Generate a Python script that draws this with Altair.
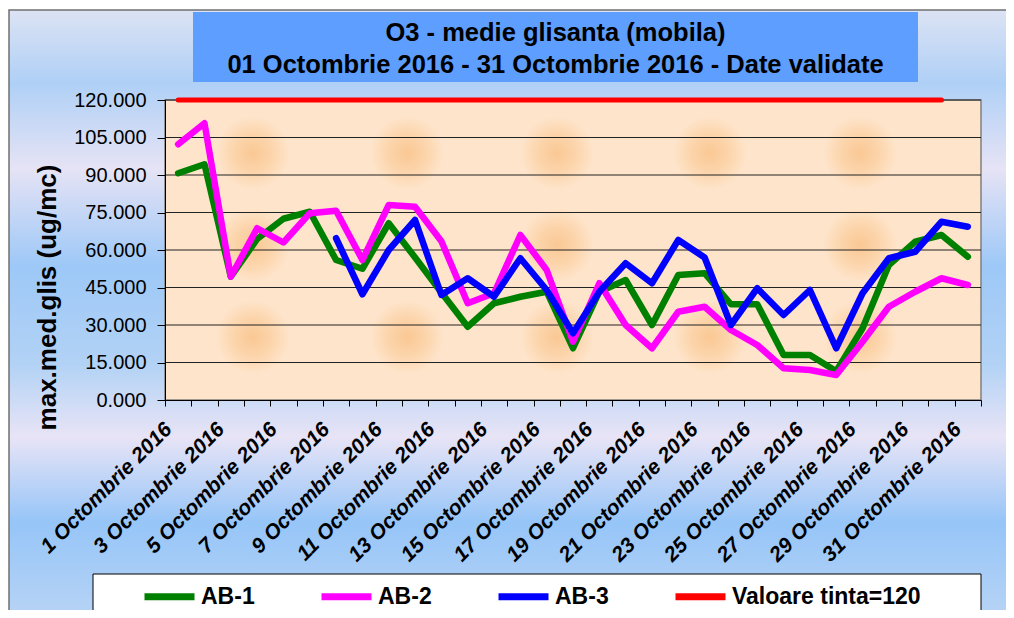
import altair as alt
import pandas as pd

# ---------------- data ----------------
days = list(range(1, 32))
ab1 = [90.7, 94.3, 49.3, 64.4, 72.5, 75.3, 56.0, 52.5, 70.7, 57.0,
       43.0, 29.3, 38.7, 41.3, 43.3, 20.7, 43.3, 48.0, 30.0, 50.0,
       50.7, 38.3, 38.3, 18.0, 18.0, 11.5, 28.7, 54.0, 63.3, 66.0, 57.3]
ab2 = [102.3, 110.7, 49.3, 68.7, 63.0, 74.7, 75.7, 56.0, 78.0, 77.3,
       63.5, 38.7, 42.7, 66.0, 52.0, 23.3, 46.7, 30.0, 20.7, 35.3,
       37.3, 28.0, 22.0, 12.7, 12.0, 10.0, 23.3, 37.3, 43.3, 48.7, 46.0]
ab3 = [None, None, None, None, None, None,
       64.7, 42.3, 60.0, 72.0, 42.0, 48.7, 41.3, 56.7, 44.0, 26.7,
       43.3, 54.7, 46.7, 64.0, 57.0, 30.0, 44.7, 34.0, 44.0, 20.7,
       42.7, 56.7, 59.3, 71.3, 69.3]
target = [120] * 30 + [None]

series_names = ["AB-1", "AB-2", "AB-3", "Valoare tinta=120"]
series_colors = ["#008000", "#FF00FF", "#0000FF", "#FF0000"]
y_ticks = [0, 15, 30, 45, 60, 75, 90, 105, 120]
title_lines = ["O3 - medie glisanta (mobila)",
               "01 Octombrie 2016 - 31 Octombrie  2016 -  Date validate"]
y_title = "max.med.glis (ug/mc)"
month_label = "Octombrie 2016"

# decorative texture of the plot area (peach blotches), in pixels of the plot area
blob_x = [88, 242, 392, 545, 695, 88, 392, 695, 88, 242, 392, 545, 695]
blob_y = [53, 53, 53, 53, 53, 145, 145, 145, 237, 237, 237, 237, 237]

FONT = "Liberation Sans"
W, H = 816, 300
PEACH = "#FEE4CA"

rows = []
for name, vals in zip(series_names, [ab1, ab2, ab3, target]):
    for d, v in zip(days, vals):
        if v is not None:
            rows.append({"day": d, "value": v, "series": name})
df = pd.DataFrame(rows)
grid_df = pd.DataFrame({"value": [t for t in y_ticks if t > 0]})
one = pd.DataFrame({"k": [0]})
blobs = pd.DataFrame({"bx": blob_x, "by": blob_y})

x_enc = alt.X(
    "day:O",
    bandPosition=0.5,
    scale=alt.Scale(type="band", paddingInner=0, paddingOuter=0, domain=days),
    axis=alt.Axis(
        title=None,
        labelExpr=f"datum.value % 2 == 1 ? datum.value + ' {month_label}' : ''",
        labelAngle=-45, labelAlign="right", labelBaseline="middle",
        labelFont=FONT, labelFontSize=21, labelFontWeight="bold",
        labelFontStyle="italic", labelColor="black", labelPadding=20,
        labelOffset=-10,
        labelLimit=400, tickBand="extent", tickSize=6, tickColor="black",
        domainColor="black", labelOverlap=False, labelBound=False,
        grid=False, zindex=1,
    ),
)
y_scale = alt.Scale(domain=[0, 120], nice=False, zero=True)
y_axis = alt.Axis(
    title=y_title, values=y_ticks, format=".3f",
    labelFont=FONT, labelFontSize=20, labelColor="black", labelPadding=11,
    tickSize=8, tickColor="black", domainColor="black", grid=False,
    titleFont=FONT, titleFontSize=26, titleFontWeight="bold",
    titleColor="black", titleAngle=270, titleAlign="center",
    titleBaseline="middle", titleX=-118, titleY=197, zindex=1,
)
y_enc = alt.Y("value:Q", scale=y_scale, axis=y_axis)

bg_grad = alt.LinearGradient(
    gradient="linear", x1=0, y1=0, x2=0, y2=1,
    stops=[
        alt.GradientStop(offset=0.0, color="#DCE3F4"),
        alt.GradientStop(offset=0.12, color="#AFD0F6"),
        alt.GradientStop(offset=0.26, color="#E6E3F5"),
        alt.GradientStop(offset=0.42, color="#9DC8F7"),
        alt.GradientStop(offset=0.58, color="#B2D2F5"),
        alt.GradientStop(offset=0.70, color="#E8E4F6"),
        alt.GradientStop(offset=0.84, color="#96C5F8"),
        alt.GradientStop(offset=1.0, color="#B8D4F5"),
    ],
)
blob_grad = alt.RadialGradient(
    gradient="radial", x1=0.5, y1=0.5, r1=0, x2=0.5, y2=0.5, r2=0.5,
    stops=[
        alt.GradientStop(offset=0.0, color="#FAC894"),
        alt.GradientStop(offset=0.28, color="#FCD5AC"),
        alt.GradientStop(offset=0.52, color=PEACH),
        alt.GradientStop(offset=1.0, color=PEACH),
    ],
)

background = alt.Chart(one).mark_rect(
    fill=bg_grad, stroke="#707070", strokeWidth=1.5
).encode(x=alt.value(-156), x2=alt.value(846), y=alt.value(-90), y2=alt.value(520))

title_box = alt.Chart(one).mark_rect(fill="#5E9EFF").encode(
    x=alt.value(28), x2=alt.value(753), y=alt.value(-88), y2=alt.value(-18)
)
title_text = alt.Chart(one).mark_text(
    text=title_lines, font=FONT, fontSize=25.5, fontWeight="bold", color="black",
    align="center", baseline="alphabetic", lineHeight=32,
).encode(x=alt.value(390.5), y=alt.value(-59))

plot_fill = alt.Chart(one).mark_rect(
    fill=PEACH, stroke="#808080", strokeWidth=1.5
).encode(x=alt.value(0), x2=alt.value(W), y=alt.value(0), y2=alt.value(H))

blob_layer = alt.Chart(blobs).transform_calculate(
    bx1="datum.bx - 70", bx2="datum.bx + 70", by1="datum.by - 44", by2="datum.by + 44"
).mark_rect(fill=blob_grad, strokeWidth=0).encode(
    x=alt.X("bx1:Q", scale=None), x2="bx2:Q",
    y=alt.Y("by1:Q", scale=None), y2="by2:Q",
)

grid = alt.Chart(grid_df).mark_rule(color="#222222", strokeWidth=1).encode(
    y=y_enc
)

legend_box = alt.Chart(one).mark_rect(
    fill="white", stroke="black", strokeWidth=1
).encode(x=alt.value(-72), x2=alt.value(816), y=alt.value(474), y2=alt.value(530))

color_enc = alt.Color(
    "series:N",
    scale=alt.Scale(domain=series_names, range=series_colors),
    legend=alt.Legend(
        title=None, orient="none", legendX=-24, legendY=468,
        direction="horizontal", symbolType="stroke", symbolSize=2500,
        symbolStrokeWidth=7, labelFont=FONT, labelFontSize=23,
        labelFontWeight="bold", labelColor="black", labelOffset=3,
        columnPadding=52, padding=0, labelLimit=400,
    ),
)

lines = alt.Chart(df).transform_filter(
    alt.datum.series != series_names[3]
).mark_line(strokeWidth=6.5, strokeJoin="round", strokeCap="round").encode(
    x=x_enc, y=y_enc, color=color_enc, detail="series:N"
)
target_line = alt.Chart(df).transform_filter(
    alt.datum.series == series_names[3]
).mark_line(strokeWidth=5, strokeCap="round").encode(
    x=x_enc, y=y_enc, color=color_enc
)

chart = alt.layer(
    background, title_box, title_text, plot_fill, blob_layer, grid, legend_box,
    lines, target_line
).properties(
    width=W, height=H,
    padding={"left": 157, "top": 92, "right": 25, "bottom": 210},
    autosize=alt.AutoSizeParams(type="none"),
).configure_view(stroke=None).configure(background="white")

chart.save("out.html", embed_options={"renderer": "svg", "actions": False})
